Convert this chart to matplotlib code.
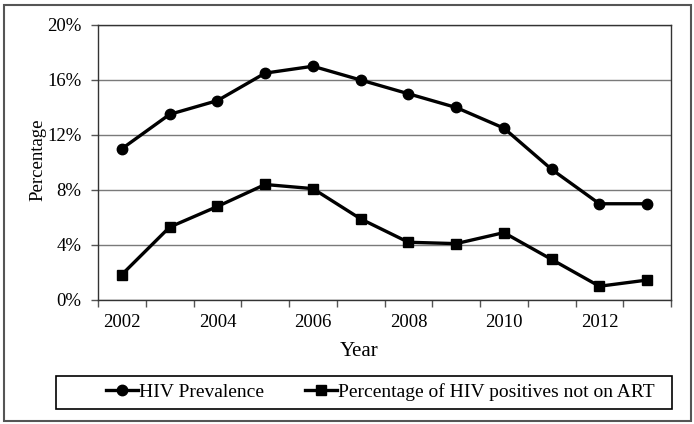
import numpy as np
import matplotlib
matplotlib.use('Agg')
import matplotlib.pyplot as plt
from matplotlib.patches import Rectangle

plt.rcParams['font.family'] = ['Liberation Serif', 'DejaVu Serif']

years = [2002, 2003, 2004, 2005, 2006, 2007, 2008, 2009, 2010, 2011, 2012, 2013]
hiv_prevalence = [11.0, 13.5, 14.5, 16.5, 17.0, 16.0, 15.0, 14.0, 12.5, 9.5, 7.0, 7.0]
not_on_art = [1.85, 5.3, 6.8, 8.4, 8.1, 5.9, 4.2, 4.1, 4.9, 2.95, 1.0, 1.45]
year_labels = ['2002', '2004', '2006', '2008', '2010', '2012']
y_ticks = [0, 4, 8, 12, 16, 20]

W, H = 694, 424
fig = plt.figure(figsize=(W / 100, H / 100), dpi=100)
ax = fig.add_axes([98 / W, 1 - 300 / H, (671 - 98) / W, (300 - 25) / H])

x = np.arange(len(years))
ax.plot(x, hiv_prevalence, color='black', lw=2.4, marker='o', markersize=7.5,
        label='HIV Prevalence')
ax.plot(x, not_on_art, color='black', lw=2.4, marker='s', markersize=7,
        label='Percentage of HIV positives not on ART')

ax.set_xlim(-0.5, len(years) - 0.5)
ax.set_ylim(0, 20)
ax.set_yticks(y_ticks)
ax.set_yticklabels([f'{v}%' for v in y_ticks], fontsize=13.5)
ax.grid(axis='y', color='#7a7a7a', lw=1)
ax.set_axisbelow(True)

# category boundaries as ticks, labels at every other category
ax.set_xticks(np.arange(-0.5, len(years), 1))
ax.set_xticklabels([])
ax.set_xticks(x[::2], year_labels, minor=True, fontsize=13.5)
ax.tick_params(axis='x', which='major', length=5, color='#555555', width=1)
ax.tick_params(axis='x', which='minor', length=0, pad=10)
ax.tick_params(axis='y', length=5, color='#555555', width=1, pad=7)

for s in ax.spines.values():
    s.set_color('#333333')
    s.set_linewidth(1)

fig.text(38 / W, 1 - 160 / H, 'Percentage', rotation=90, fontsize=13.5,
         ha='center', va='center')
fig.text(359 / W, 1 - 351 / H, 'Year', fontsize=15, ha='center', va='center')

# legend box below the plot
fig.add_artist(Rectangle((56 / W, 1 - 409 / H), (672 - 56) / W, 33 / H,
                         transform=fig.transFigure, fill=False,
                         edgecolor='black', lw=1.2))
fig.legend(loc='center', bbox_to_anchor=(380 / W, 1 - 392 / H), ncol=2,
           frameon=False, fontsize=14, handlelength=1.65, handletextpad=0.05,
           columnspacing=2.1, borderpad=0)

# outer chart border
fig.add_artist(Rectangle((4 / W, 1 - 421 / H), (691 - 4) / W, (421 - 5) / H,
                         transform=fig.transFigure, fill=False,
                         edgecolor='#555555', lw=1.5))

fig.savefig('out.png', dpi=100)
